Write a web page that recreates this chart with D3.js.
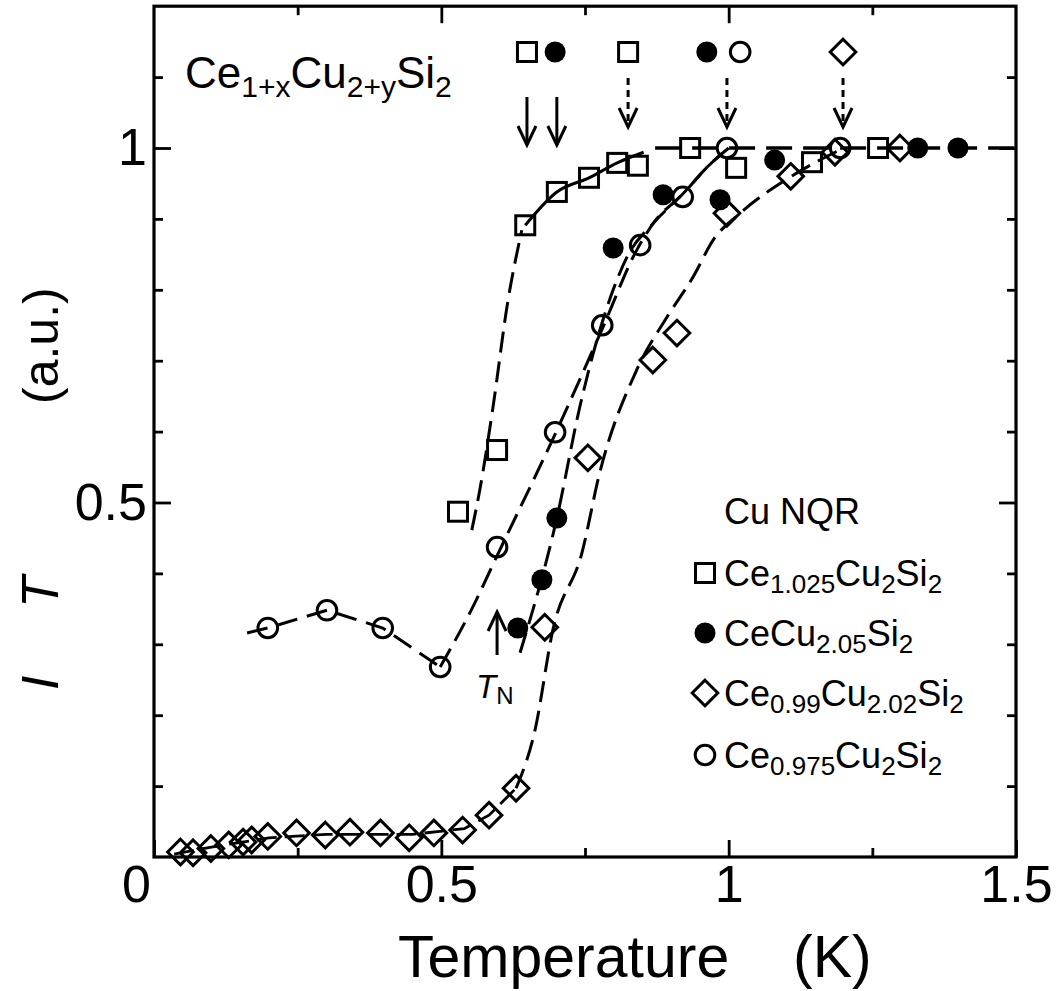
<!DOCTYPE html>
<html>
<head>
<meta charset="utf-8">
<script src="https://cdn.jsdelivr.net/npm/d3@7"></script>
<style>
  html, body { margin: 0; padding: 0; background: #fff; }
  svg { display: block; }
  text { font-family: "Liberation Sans", Arial, Helvetica, sans-serif; fill: #000; }
</style>
</head>
<body>
<svg id="chart" width="1057" height="991"></svg>
<script>
// ---------------- data ----------------
// Ce1.025Cu2Si2 (open squares)
const sqT = [0.529,0.597,0.646,0.701,0.757,0.806,0.842,0.933,1.013,1.145,1.260];
const sqV = [0.487,0.574,0.891,0.938,0.958,0.979,0.975,1.000,0.972,0.980,1.000];
// CeCu2.05Si2 (filled circles)
const fcT = [0.633,0.675,0.701,0.799,0.886,0.985,1.080,1.329,1.399];
const fcV = [0.323,0.391,0.478,0.859,0.934,0.927,0.983,1.000,1.000];
// Ce0.99Cu2.02Si2 (open diamonds)
const dmT = [0.046,0.068,0.099,0.130,0.155,0.170,0.198,0.248,0.298,0.341,0.394,0.444,0.487,0.537,0.583,0.630,0.680,0.755,0.868,0.910,0.997,1.108,1.185,1.298];
const dmV = [0.007,0.006,0.012,0.017,0.021,0.024,0.029,0.034,0.031,0.035,0.034,0.027,0.034,0.038,0.059,0.097,0.324,0.563,0.701,0.739,0.908,0.960,0.994,1.000];
// Ce0.975Cu2Si2 (open circles)
const ocT = [0.198,0.301,0.398,0.498,0.597,0.698,0.780,0.846,0.920,0.997,1.194];
const ocV = [0.323,0.348,0.323,0.268,0.437,0.599,0.750,0.863,0.931,1.000,1.000];

// guide curves drawn in the figure (T, value)
const guideSqDash   = [[0.553,0.461],[0.567,0.518],[0.590,0.635],[0.615,0.780],[0.640,0.884]];
const guideSqSolid  = [[0.646,0.891],[0.701,0.938],[0.757,0.958],[0.806,0.979],[0.852,0.994]];
const guidePlateau  = [[0.872,1.0],[1.5,1.0]];
const guideFc       = [[0.637,0.288],[0.701,0.478],[0.741,0.635],[0.799,0.800],[0.823,0.846],[0.870,0.895],[0.920,0.935],[0.965,0.975],[1.000,1.000]];
const guideOcLow    = [[0.162,0.316],[0.198,0.323],[0.301,0.348],[0.398,0.323],[0.498,0.268]];
const guideOcHigh   = [[0.498,0.268],[0.550,0.345],[0.600,0.430],[0.700,0.600],[0.780,0.745],[0.840,0.856],[0.870,0.895],[0.920,0.935],[0.965,0.975],[1.000,1.000]];
const guideDmLow    = [[0.035,0.004],[0.100,0.014],[0.200,0.027],[0.300,0.032],[0.450,0.032],[0.540,0.040],[0.583,0.059],[0.630,0.097]];
const guideDmHigh   = [[0.630,0.097],[0.663,0.179],[0.694,0.320],[0.745,0.430],[0.775,0.540],[0.840,0.687],[0.893,0.762],[0.938,0.818],[0.973,0.870],[1.020,0.908],[1.107,0.959],[1.200,1.000]];

// transition-temperature markers at the top
const tcSymT     = [0.649, 0.698, 0.825, 0.962, 1.020, 1.199];
const tcSymKind  = ["sq", "fc", "sq", "fc", "oc", "dm"];
const tcSolidT   = [0.649, 0.701];
const tcDashedT  = [0.825, 0.997, 1.199];
const tnT = 0.597;

// axis ticks
const xMajor = [0, 0.5, 1, 1.5];
const xMajorLabels = ["0", "0.5", "1", "1.5"];
const xMinor = [0.25, 0.75, 1.25];
const yMajor = [0.5, 1];
const yMajorLabels = ["0.5", "1"];
const yMinor = [0.1, 0.2, 0.3, 0.4, 0.6, 0.7, 0.8, 0.9, 1.1];

const legendTitle = "Cu NQR";
const legendKinds = ["sq", "fc", "dm", "oc"];
const legendLabels = [
  [["Ce"],["1.025",1],["Cu"],["2",1],["Si"],["2",1]],
  [["CeCu"],["2.05",1],["Si"],["2",1]],
  [["Ce"],["0.99",1],["Cu"],["2.02",1],["Si"],["2",1]],
  [["Ce"],["0.975",1],["Cu"],["2",1],["Si"],["2",1]]
];
const formulaLabel = [["Ce"],["1+x",1],["Cu"],["2+y",1],["Si"],["2",1]];

// ---------------- drawing ----------------
const svg = d3.select("#chart");
svg.append("rect").attr("width", 1057).attr("height", 991).attr("fill", "#fff");

const x = d3.scaleLinear().domain([0, 1.5]).range([154, 1016]);
const y = d3.scaleLinear().domain([0, 1.2]).range([857, 6.2]);

const TICK_MAJ = 17, TICK_MIN = 9;
const SW = 3;

function styleAxis(g) {
  g.select(".domain").remove();
  g.selectAll(".tick line").attr("stroke", "#000").attr("stroke-width", 2.8);
  g.selectAll(".tick text").attr("font-size", 52).attr("fill", "#000")
    .style("font-family", "'Liberation Sans', Arial, Helvetica, sans-serif");
}

// bottom
svg.append("g").attr("transform", `translate(0,${y(0)})`)
  .call(d3.axisBottom(x).tickValues(xMajor).tickSizeInner(-TICK_MAJ).tickSizeOuter(0).tickPadding(8)
    .tickFormat((d, i) => xMajorLabels[i]))
  .call(styleAxis)
  .call(g => g.selectAll(".tick text").filter(d => d === 0).attr("dx", -18));
svg.append("g").attr("transform", `translate(0,${y(0)})`)
  .call(d3.axisBottom(x).tickValues(xMinor).tickSizeInner(-TICK_MIN).tickSizeOuter(0).tickFormat(""))
  .call(styleAxis);
// top
svg.append("g").attr("transform", `translate(0,${y(1.2)})`)
  .call(d3.axisTop(x).tickValues(xMajor.slice(1, 3)).tickSizeInner(-TICK_MAJ).tickSizeOuter(0).tickFormat(""))
  .call(styleAxis);
svg.append("g").attr("transform", `translate(0,${y(1.2)})`)
  .call(d3.axisTop(x).tickValues(xMinor).tickSizeInner(-TICK_MIN).tickSizeOuter(0).tickFormat(""))
  .call(styleAxis);
// left
svg.append("g").attr("transform", `translate(${x(0)},0)`)
  .call(d3.axisLeft(y).tickValues(yMajor).tickSizeInner(-TICK_MAJ).tickSizeOuter(0).tickPadding(7)
    .tickFormat((d, i) => yMajorLabels[i]))
  .call(styleAxis);
svg.append("g").attr("transform", `translate(${x(0)},0)`)
  .call(d3.axisLeft(y).tickValues(yMinor).tickSizeInner(-TICK_MIN).tickSizeOuter(0).tickFormat(""))
  .call(styleAxis);
// right
svg.append("g").attr("transform", `translate(${x(1.5)},0)`)
  .call(d3.axisRight(y).tickValues(yMajor).tickSizeInner(-TICK_MAJ).tickSizeOuter(0).tickFormat(""))
  .call(styleAxis);
svg.append("g").attr("transform", `translate(${x(1.5)},0)`)
  .call(d3.axisRight(y).tickValues(yMinor).tickSizeInner(-TICK_MIN).tickSizeOuter(0).tickFormat(""))
  .call(styleAxis);

// frame
svg.append("rect")
  .attr("x", x(0)).attr("y", y(1.2))
  .attr("width", x(1.5) - x(0)).attr("height", y(0) - y(1.2))
  .attr("fill", "none").attr("stroke", "#000").attr("stroke-width", 3.2);

// guide lines
const lineLin = d3.line().x(d => x(d[0])).y(d => y(d[1]));
const lineMono = d3.line().x(d => x(d[0])).y(d => y(d[1])).curve(d3.curveMonotoneX);
const guides = svg.append("g").attr("fill", "none").attr("stroke", "#000").attr("stroke-linecap", "butt");
function guide(data, gen, dash, w) {
  guides.append("path").attr("d", gen(data)).attr("stroke-width", w)
    .attr("stroke-dasharray", dash);
}
guide(guideSqDash, lineMono, "21,9", SW);
guide(guideSqSolid, lineMono, null, SW);
guide(guidePlateau, lineLin, "26,11", 3.6);
guide(guideFc, lineMono, "21,9", SW);
guide(guideOcLow, lineLin, "21,10", SW);
guide(guideOcHigh, lineMono, "21,9", SW);
guide(guideDmLow, lineLin, "20,8", 2.8);
guide(guideDmHigh, lineMono, "21,9", SW);

// markers
function marker(g, kind, cx, cy) {
  if (kind === "sq") {
    g.append("rect").attr("x", cx - 9.5).attr("y", cy - 9.5).attr("width", 19).attr("height", 19)
      .attr("fill", "none").attr("stroke", "#000").attr("stroke-width", SW);
  } else if (kind === "fc") {
    g.append("circle").attr("cx", cx).attr("cy", cy).attr("r", 10.5).attr("fill", "#000");
  } else if (kind === "oc") {
    g.append("circle").attr("cx", cx).attr("cy", cy).attr("r", 9.8)
      .attr("fill", "none").attr("stroke", "#000").attr("stroke-width", SW);
  } else if (kind === "dm") {
    const h = 12.8;
    g.append("path").attr("d", `M${cx},${cy - h}L${cx + h},${cy}L${cx},${cy + h}L${cx - h},${cy}Z`)
      .attr("fill", "none").attr("stroke", "#000").attr("stroke-width", SW).attr("stroke-linejoin", "miter");
  }
}
const marks = svg.append("g");
dmT.forEach((t, i) => marker(marks, "dm", x(t), y(dmV[i])));
ocT.forEach((t, i) => marker(marks, "oc", x(t), y(ocV[i])));
sqT.forEach((t, i) => marker(marks, "sq", x(t), y(sqV[i])));
fcT.forEach((t, i) => marker(marks, "fc", x(t), y(fcV[i])));

// top Tc symbols and arrows
const ann = svg.append("g");
tcSymT.forEach((t, i) => marker(ann, tcSymKind[i], x(t), 52));
function arrow(g, px, y0, y1, dashed, up) {
  g.append("line").attr("x1", px).attr("x2", px).attr("y1", y0).attr("y2", y1)
    .attr("stroke", "#000").attr("stroke-width", 3)
    .attr("stroke-dasharray", dashed ? "7,5" : null);
  const s = up ? 1 : -1;
  g.append("path")
    .attr("d", `M${px - 9},${y1 + s * 19}L${px},${y1}L${px + 9},${y1 + s * 19}`)
    .attr("fill", "none").attr("stroke", "#000").attr("stroke-width", 3);
}
tcSolidT.forEach(t => arrow(ann, x(t), 97, 145, false, false));
tcDashedT.forEach(t => arrow(ann, x(t), 78, 127, true, false));
arrow(ann, x(tnT), 655, 612, false, true);

// rich text helper (subscripts)
function rich(g, px, py, parts, size, subSize, shift) {
  const t = g.append("text").attr("x", px).attr("y", py).attr("font-size", size);
  let down = false;
  parts.forEach(p => {
    const sub = !!p[1];
    const ts = t.append("tspan").text(p[0]);
    if (sub && !down) { ts.attr("dy", shift); down = true; }
    else if (!sub && down) { ts.attr("dy", -shift); down = false; }
    if (sub) ts.attr("font-size", subSize);
  });
  return t;
}

// T_N label
const tn = svg.append("text").attr("x", 476).attr("y", 698).attr("font-size", 33);
tn.append("tspan").text("T").attr("font-style", "italic");
tn.append("tspan").text("N").attr("font-size", 24).attr("dy", 6);

// formula label
rich(svg, 185, 88, formulaLabel, 44, 30, 9);

// legend
const lg = svg.append("g");
lg.append("text").attr("x", 724).attr("y", 524).attr("font-size", 36).text(legendTitle);
const rowY = [573, 633, 693, 755];
legendKinds.forEach((k, i) => {
  marker(lg, k, 705, rowY[i]);
  rich(lg, 724, rowY[i] + 13, legendLabels[i], 36, 26, 7);
});

// axis titles
svg.append("text").attr("x", 398).attr("y", 977).attr("font-size", 59).text("Temperature");
svg.append("text").attr("x", 793).attr("y", 977).attr("font-size", 59).text("(K)");

const yt = svg.append("g");
yt.append("text").attr("transform", "translate(58,690) rotate(-90)").attr("font-size", 52)
  .attr("font-style", "italic").text("I");
yt.append("text").attr("transform", "translate(58,608) rotate(-90)").attr("font-size", 52)
  .attr("font-style", "italic").text("T");
yt.append("text").attr("transform", "translate(58,404) rotate(-90)").attr("font-size", 50)
  .text("(a.u.)");
</script>
</body>
</html>
